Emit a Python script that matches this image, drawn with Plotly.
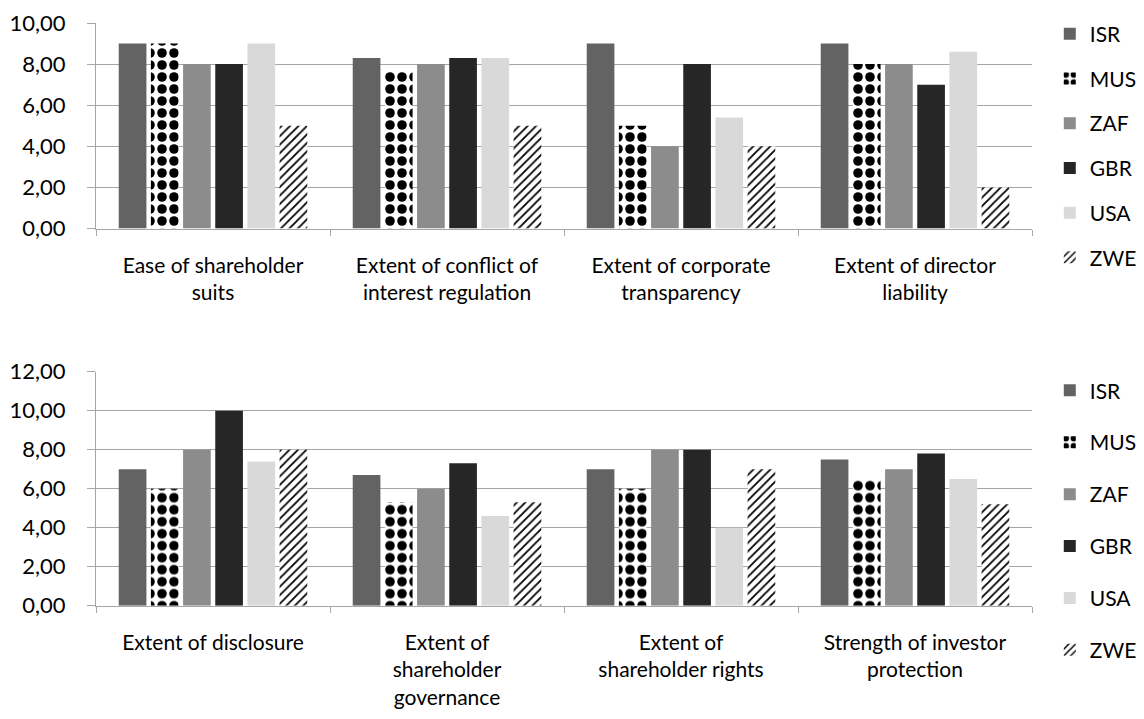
import plotly.graph_objects as go

countries = ["ISR", "MUS", "ZAF", "GBR", "USA", "ZWE"]

cats_top = ["Ease of shareholder<br>suits", "Extent of conflict of<br>interest regulation",
            "Extent of corporate<br>transparency", "Extent of director<br>liability"]
cats_bot = ["Extent of disclosure", "Extent of<br>shareholder<br>governance",
            "Extent of<br>shareholder rights", "Strength of investor<br>protection"]

top_isr = [9.0, 8.3, 9.0, 9.0]
top_mus = [9.0, 7.7, 5.0, 8.0]
top_zaf = [8.0, 8.0, 4.0, 8.0]
top_gbr = [8.0, 8.3, 8.0, 7.0]
top_usa = [9.0, 8.3, 5.4, 8.6]
top_zwe = [5.0, 5.0, 4.0, 2.0]

bot_isr = [7.0, 6.7, 7.0, 7.5]
bot_mus = [6.0, 5.3, 6.0, 6.5]
bot_zaf = [8.0, 6.0, 8.0, 7.0]
bot_gbr = [10.0, 7.3, 8.0, 7.8]
bot_usa = [7.4, 4.6, 4.0, 6.5]
bot_zwe = [8.0, 5.3, 7.0, 5.2]

top_vals = [top_isr, top_mus, top_zaf, top_gbr, top_usa, top_zwe]
bot_vals = [bot_isr, bot_mus, bot_zaf, bot_gbr, bot_usa, bot_zwe]

styles = {
    "ISR": dict(color="#636363"),
    "MUS": dict(color="white", pattern=dict(shape=".", fgcolor="black", bgcolor="white",
                                             size=12, solidity=0.5, fillmode="replace")),
    "ZAF": dict(color="#8c8c8c"),
    "GBR": dict(color="#262626"),
    "USA": dict(color="#d9d9d9"),
    "ZWE": dict(color="white", pattern=dict(shape="/", fgcolor="black", bgcolor="white",
                                             size=6, solidity=0.3, fillmode="replace")),
}

fig = go.Figure()
for i, c in enumerate(countries):
    fig.add_trace(go.Bar(x=cats_top, y=top_vals[i], name=c, marker=dict(line=dict(width=0), **styles[c]),
                         xaxis="x", yaxis="y", legend="legend", legendgroup="t" + c))
for i, c in enumerate(countries):
    fig.add_trace(go.Bar(x=cats_bot, y=bot_vals[i], name=c, marker=dict(line=dict(width=0), **styles[c]),
                         xaxis="x2", yaxis="y2", legend="legend2", legendgroup="b" + c))

# page body has an 8px margin; figure coordinates = screen - 8
W, H = 1136, 711
grid = "#a6a6a6"

axis_x = dict(type="category", showline=True, linecolor=grid, linewidth=1, ticks="outside",
              tickson="boundaries", ticklen=6, tickcolor=grid, showgrid=False,
              tickfont=dict(family="Lato", size=21, color="black"), automargin=False, tickangle=0,
              ticklabelstandoff=18)
axis_y = dict(showline=True, linecolor=grid, linewidth=1, ticks="outside", ticklen=8, tickcolor=grid,
              showgrid=True, gridcolor=grid, gridwidth=1, tickformat=".2f", dtick=2,
              tickfont=dict(family="Lato", size=22, color="black"), automargin=False, zeroline=False,
              ticklabelstandoff=17)

fig.update_layout(
    width=W, height=H,
    margin=dict(l=88, r=112, t=0, b=0),
    paper_bgcolor="white", plot_bgcolor="white",
    separators=",.",
    font=dict(family="Lato", size=21, color="black"),
    barmode="group", bargap=0.175, bargroupgap=0.14,
    xaxis=dict(axis_x, domain=[0, 1], anchor="y"),
    yaxis=dict(axis_y, domain=[1 - 220.5 / H, 1 - 15 / H], range=[0, 10], anchor="x"),
    xaxis2=dict(axis_x, domain=[0, 1], anchor="y2"),
    yaxis2=dict(axis_y, domain=[1 - 597.7 / H, 1 - 363.7 / H], range=[0, 12], anchor="x2"),
    legend=dict(x=1.019, y=1 - 5.7 / H, xanchor="left", yanchor="top", tracegroupgap=14.4,
                font=dict(family="Lato", size=21, color="black"), itemwidth=30),
    legend2=dict(x=1.019, y=1 - 362.2 / H, xanchor="left", yanchor="top", tracegroupgap=21.6,
                 font=dict(family="Lato", size=21, color="black"), itemwidth=30),
)

fig.write_html("out.html")
